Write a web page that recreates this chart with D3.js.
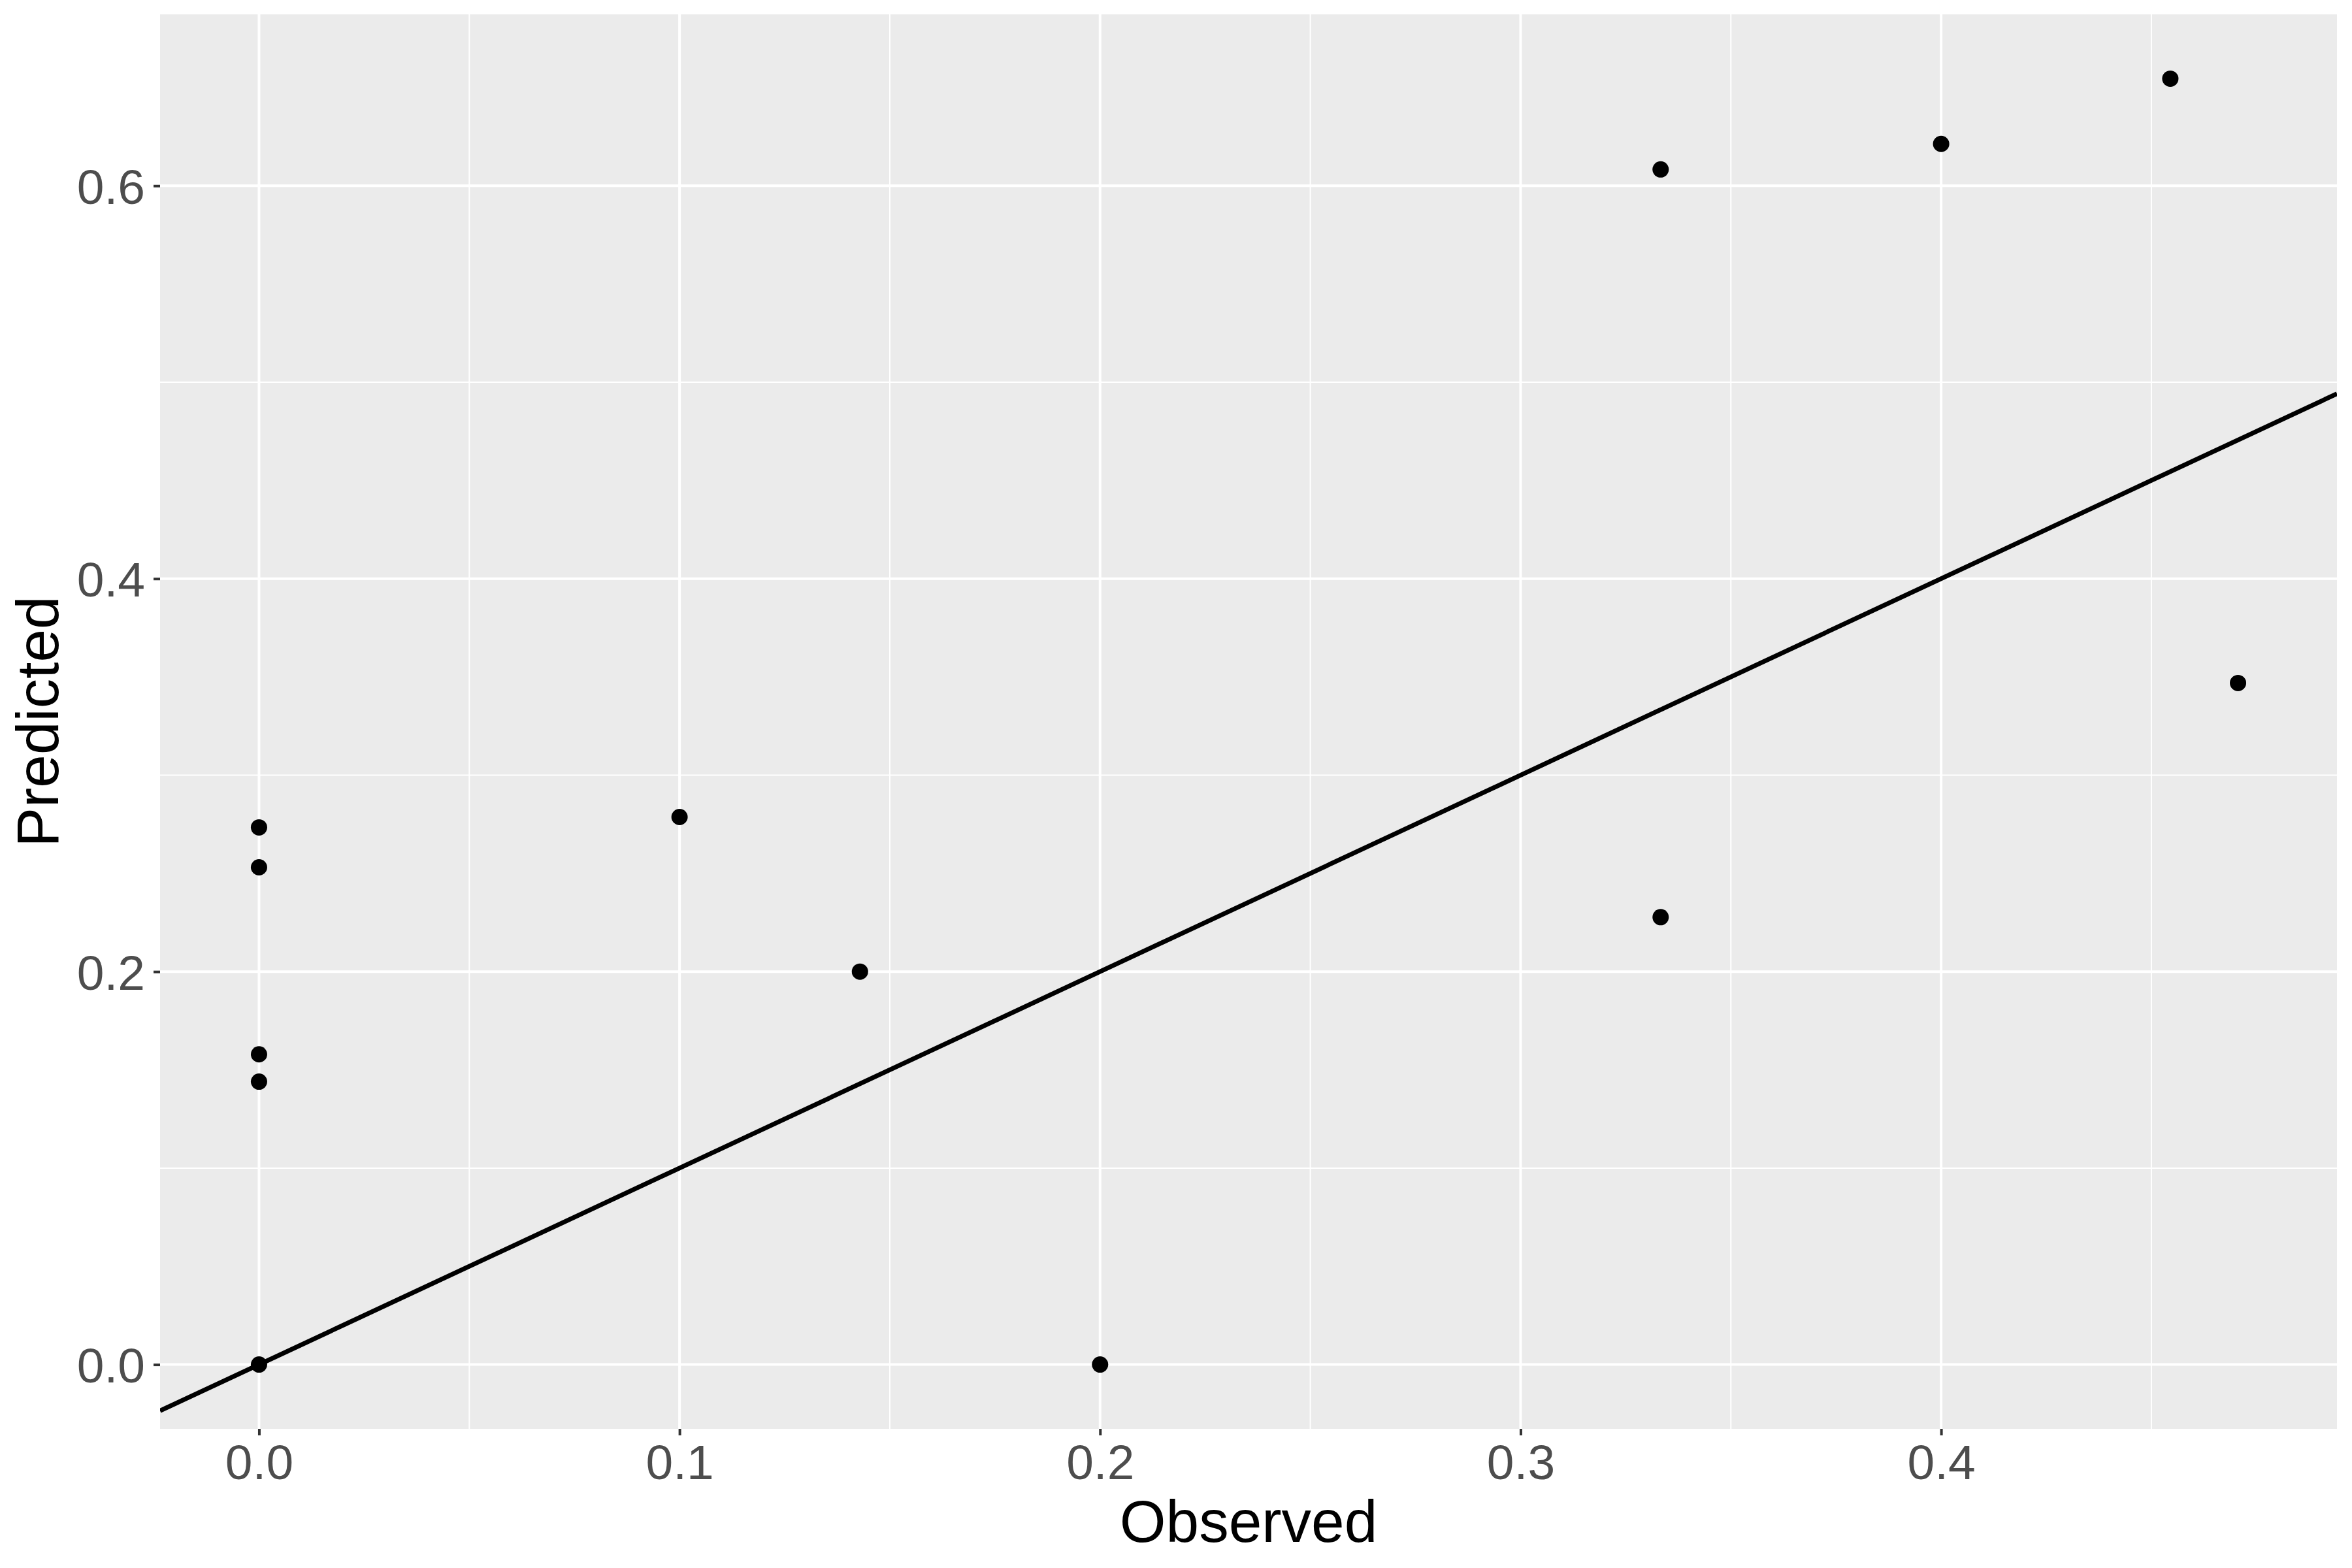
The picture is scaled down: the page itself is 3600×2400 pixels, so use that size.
<!DOCTYPE html>
<html>
<head>
<meta charset="utf-8">
<script src="https://cdn.jsdelivr.net/npm/d3@7"></script>
<style>
  html, body { margin: 0; padding: 0; background: #ffffff; }
  svg { display: block; }
  text { font-family: "Liberation Sans", Arial, sans-serif; }
</style>
</head>
<body>
<svg id="chart" width="3600" height="2400"></svg>
<script>
// ---- data ----
const observed  = [0, 0, 0, 0, 0, 0.1, 0.1429, 0.2, 0.3333, 0.3333, 0.4, 0.4545, 0.4706];
const predicted = [0.2734, 0.2531, 0.1579, 0.1440, 0, 0.2787, 0.2, 0, 0.6083, 0.2277, 0.6213, 0.6545, 0.3469];
const xMajorTicks = [0, 0.1, 0.2, 0.3, 0.4];
const xMinorTicks = [0.05, 0.15, 0.25, 0.35, 0.45];
const yMajorTicks = [0, 0.2, 0.4, 0.6];
const yMinorTicks = [0.1, 0.3, 0.5];
const xTitle = "Observed";
const yTitle = "Predicted";

// ---- layout ----
const W = 3600, H = 2400;
const panel = { left: 245, right: 3577, top: 22, bottom: 2187 };

function expand(ext) {
  const pad = (ext[1] - ext[0]) * 0.05;
  return [ext[0] - pad, ext[1] + pad];
}

const x = d3.scaleLinear().domain(expand(d3.extent(observed))).range([panel.left, panel.right]);
const y = d3.scaleLinear().domain(expand(d3.extent(predicted))).range([panel.bottom, panel.top]);

const svg = d3.select("#chart");
svg.append("rect").attr("width", W).attr("height", H).attr("fill", "#ffffff");

svg.append("defs").append("clipPath").attr("id", "clip")
  .append("rect")
  .attr("x", panel.left).attr("y", panel.top)
  .attr("width", panel.right - panel.left).attr("height", panel.bottom - panel.top);

// panel background
svg.append("rect")
  .attr("x", panel.left).attr("y", panel.top)
  .attr("width", panel.right - panel.left).attr("height", panel.bottom - panel.top)
  .attr("fill", "#EBEBEB");

const grid = svg.append("g").attr("clip-path", "url(#clip)");
// minor grid
grid.selectAll("line.xminor").data(xMinorTicks).join("line")
  .attr("x1", d => x(d)).attr("x2", d => x(d))
  .attr("y1", panel.top).attr("y2", panel.bottom)
  .attr("stroke", "#ffffff").attr("stroke-width", 2);
grid.selectAll("line.yminor").data(yMinorTicks).join("line")
  .attr("y1", d => y(d)).attr("y2", d => y(d))
  .attr("x1", panel.left).attr("x2", panel.right)
  .attr("stroke", "#ffffff").attr("stroke-width", 2);
// major grid
grid.selectAll("line.xmajor").data(xMajorTicks).join("line")
  .attr("x1", d => x(d)).attr("x2", d => x(d))
  .attr("y1", panel.top).attr("y2", panel.bottom)
  .attr("stroke", "#ffffff").attr("stroke-width", 4);
grid.selectAll("line.ymajor").data(yMajorTicks).join("line")
  .attr("y1", d => y(d)).attr("y2", d => y(d))
  .attr("x1", panel.left).attr("x2", panel.right)
  .attr("stroke", "#ffffff").attr("stroke-width", 4);

// identity line y = x
const xd = x.domain();
const plot = svg.append("g").attr("clip-path", "url(#clip)");
plot.append("line")
  .attr("x1", x(xd[0])).attr("y1", y(xd[0]))
  .attr("x2", x(xd[1])).attr("y2", y(xd[1]))
  .attr("stroke", "#000000").attr("stroke-width", 7);

// points
plot.selectAll("circle").data(observed.map((o, i) => [o, predicted[i]])).join("circle")
  .attr("cx", d => x(d[0])).attr("cy", d => y(d[1]))
  .attr("r", 12.5).attr("fill", "#000000");

// axes
const fmt = d3.format(".1f");
const xAxis = d3.axisBottom(x).tickValues(xMajorTicks).tickFormat(fmt).tickSize(10).tickPadding(15);
const yAxis = d3.axisLeft(y).tickValues(yMajorTicks).tickFormat(fmt).tickSize(10).tickPadding(13);

const gx = svg.append("g").attr("transform", `translate(0,${panel.bottom})`).call(xAxis);
const gy = svg.append("g").attr("transform", `translate(${panel.left},0)`).call(yAxis);
[gx, gy].forEach(g => {
  g.select(".domain").remove();
  g.selectAll(".tick line").attr("stroke", "#333333").attr("stroke-width", 4);
  g.selectAll(".tick text").attr("fill", "#4D4D4D").attr("font-size", 75)
    .attr("font-family", "'Liberation Sans', Arial, sans-serif");
});
gx.selectAll(".tick text").attr("y", 77).attr("dy", 0);
gy.selectAll(".tick text").attr("dy", "0.36em");

// titles
svg.append("text")
  .attr("x", (panel.left + panel.right) / 2).attr("y", 2360)
  .attr("text-anchor", "middle").attr("font-size", 91).attr("fill", "#000000")
  .text(xTitle);
svg.append("text")
  .attr("transform", `translate(89,${(panel.top + panel.bottom) / 2}) rotate(-90)`)
  .attr("text-anchor", "middle").attr("font-size", 91).attr("fill", "#000000")
  .text(yTitle);
</script>
</body>
</html>
